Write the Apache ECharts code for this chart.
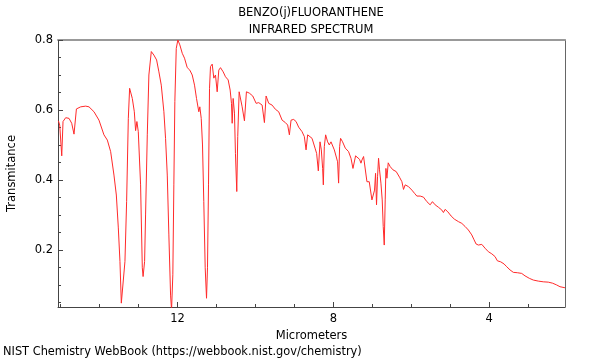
<!DOCTYPE html>
<html>
<head>
<meta charset="utf-8">
<script src="https://cdn.jsdelivr.net/npm/echarts@6/dist/echarts.min.js"></script>
<style>html,body{margin:0;padding:0;background:#fff}#c{width:600px;height:360px}</style>
</head>
<body>
<div id="c"></div>
<script>
// Wavelength in micrometers
var wavelength = [15.059,15.026,14.974,14.941,14.872,14.787,14.718,14.659,14.597,14.487,14.359,14.274,14.146,14.018,13.890,13.803,13.718,13.633,13.572,13.521,13.479,13.444,13.403,13.351,13.308,13.264,13.231,13.162,13.110,13.077,13.044,13.008,12.949,12.905,12.885,12.846,12.821,12.777,12.736,12.674,12.608,12.538,12.479,12.418,12.351,12.308,12.264,12.223,12.179,12.154,12.121,12.095,12.069,12.033,11.992,11.941,11.879,11.821,11.751,11.685,11.623,11.564,11.513,11.454,11.428,11.392,11.359,11.326,11.290,11.256,11.231,11.205,11.179,11.154,11.110,11.069,11.026,10.982,10.941,10.897,10.828,10.769,10.700,10.649,10.615,10.597,10.572,10.538,10.513,10.479,10.454,10.418,10.385,10.341,10.282,10.231,10.154,10.069,9.982,9.915,9.828,9.769,9.726,9.659,9.572,9.487,9.403,9.315,9.231,9.172,9.128,9.085,9.018,8.956,8.890,8.803,8.744,8.700,8.659,8.608,8.546,8.469,8.428,8.385,8.341,8.308,8.274,8.256,8.231,8.197,8.146,8.103,8.059,8.008,7.974,7.923,7.890,7.864,7.838,7.813,7.762,7.692,7.608,7.546,7.495,7.462,7.428,7.377,7.326,7.290,7.264,7.223,7.179,7.136,7.077,7.033,7.008,6.967,6.941,6.915,6.890,6.864,6.838,6.813,6.777,6.744,6.718,6.692,6.667,6.649,6.623,6.590,6.538,6.469,6.385,6.300,6.238,6.197,6.154,6.069,5.982,5.915,5.854,5.769,5.685,5.597,5.513,5.454,5.385,5.300,5.213,5.172,5.128,5.059,4.974,4.890,4.787,4.700,4.615,4.531,4.444,4.385,4.333,4.274,4.187,4.103,4.018,3.931,3.846,3.787,3.700,3.615,3.546,3.462,3.377,3.274,3.162,3.077,2.967,2.864,2.736,2.608,2.479,2.367,2.264,2.179,2.051];
// Transmittance
var transmittance = [0.569,0.557,0.469,0.567,0.578,0.576,0.562,0.531,0.603,0.609,0.611,0.609,0.595,0.571,0.529,0.514,0.481,0.414,0.357,0.263,0.167,0.048,0.052,0.167,0.338,0.576,0.662,0.633,0.595,0.541,0.567,0.538,0.386,0.149,0.124,0.167,0.300,0.529,0.700,0.767,0.757,0.743,0.709,0.671,0.595,0.519,0.414,0.243,0.071,0.029,0.129,0.386,0.624,0.776,0.800,0.786,0.762,0.748,0.721,0.714,0.700,0.671,0.633,0.595,0.609,0.576,0.500,0.338,0.149,0.062,0.149,0.386,0.662,0.724,0.731,0.691,0.700,0.652,0.714,0.721,0.709,0.695,0.686,0.657,0.619,0.562,0.633,0.591,0.476,0.367,0.524,0.652,0.648,0.609,0.569,0.652,0.648,0.640,0.619,0.621,0.614,0.564,0.640,0.619,0.614,0.602,0.595,0.571,0.564,0.557,0.529,0.571,0.573,0.567,0.551,0.538,0.524,0.486,0.529,0.531,0.519,0.491,0.476,0.426,0.509,0.486,0.433,0.386,0.495,0.529,0.509,0.500,0.509,0.505,0.486,0.481,0.452,0.391,0.495,0.519,0.509,0.491,0.481,0.462,0.433,0.433,0.469,0.471,0.459,0.448,0.457,0.467,0.469,0.395,0.395,0.395,0.343,0.338,0.371,0.419,0.329,0.409,0.462,0.429,0.391,0.343,0.267,0.214,0.343,0.433,0.405,0.449,0.438,0.429,0.424,0.408,0.395,0.373,0.386,0.381,0.371,0.362,0.354,0.354,0.351,0.338,0.329,0.338,0.329,0.322,0.314,0.307,0.316,0.309,0.297,0.288,0.281,0.276,0.267,0.257,0.243,0.229,0.217,0.214,0.216,0.205,0.195,0.189,0.181,0.169,0.166,0.160,0.152,0.143,0.136,0.135,0.133,0.126,0.119,0.114,0.111,0.109,0.108,0.105,0.100,0.095,0.092];
var xLabelValues = [4, 8, 12];
var xMinorTicks = [3, 5, 6, 7, 9, 10, 11, 13, 14, 15];
var yLabelValues = [0.2, 0.4, 0.6, 0.8];
var yMinorTicks = [0.05, 0.1, 0.15, 0.25, 0.3, 0.35, 0.45, 0.5, 0.55, 0.65, 0.7, 0.75];

var X_MIN = 2.05, X_MAX = 15.07, Y_MIN = 0.037, Y_MAX = 0.8;
var FONT = 'DejaVu Sans';
var FS = 11.5;
var data = wavelength.map(function (w, i) { return [w, transmittance[i]]; });

var chart = echarts.init(document.getElementById('c'), null, {renderer: 'canvas'});
chart.setOption({
  animation: false,
  backgroundColor: '#fff',
  textStyle: {fontFamily: FONT},
  title: [{
    text: 'BENZO(j)FLUORANTHENE\nINFRARED SPECTRUM',
    left: 311, top: 4.5, padding: 0, textAlign: 'center',
    textStyle: {fontFamily: FONT, fontSize: FS, fontWeight: 'normal', color: '#000', lineHeight: 17}
  }, {
    text: 'NIST Chemistry WebBook (https://webbook.nist.gov/chemistry)',
    left: 3, top: 345.5, padding: 0,
    textStyle: {fontFamily: FONT, fontSize: 11.4, fontWeight: 'normal', color: '#000', lineHeight: 14}
  }],
  grid: {left: 58, right: 35, top: 40, bottom: 53, containLabel: false, outerBoundsMode: 'none'},
  xAxis: [{
    type: 'value', position: 'bottom', inverse: true, min: X_MIN, max: X_MAX,
    name: 'Micrometers', nameLocation: 'middle', nameGap: 18,
    nameTextStyle: {fontFamily: FONT, fontSize: FS, color: '#000'},
    axisLine: {show: true, lineStyle: {color: '#444', width: 1}},
    axisTick: {show: true, inside: true, length: 5, customValues: xLabelValues, lineStyle: {color: '#444'}},
    axisLabel: {show: true, customValues: xLabelValues, fontFamily: FONT, fontSize: FS, color: '#000', margin: 6},
    splitLine: {show: false}
  }, {
    type: 'value', position: 'bottom', inverse: true, min: X_MIN, max: X_MAX,
    axisLine: {show: false},
    axisTick: {show: true, inside: true, length: 3, customValues: xMinorTicks, lineStyle: {color: '#444'}},
    axisLabel: {show: false},
    splitLine: {show: false}
  }, {
    type: 'value', position: 'top', inverse: true, min: X_MIN, max: X_MAX,
    axisLine: {show: true, lineStyle: {color: '#999', width: 2}},
    axisTick: {show: false}, axisLabel: {show: false}, splitLine: {show: false}
  }],
  yAxis: [{
    type: 'value', position: 'left', min: Y_MIN, max: Y_MAX,
    name: 'Transmitance', nameLocation: 'middle', nameGap: 40, nameRotate: 90,
    nameTextStyle: {fontFamily: FONT, fontSize: FS, color: '#000'},
    axisLine: {show: true, lineStyle: {color: '#444', width: 1}},
    axisTick: {show: true, inside: true, length: 5, customValues: yLabelValues, lineStyle: {color: '#444'}},
    axisLabel: {show: true, customValues: yLabelValues, fontFamily: FONT, fontSize: FS, color: '#000', margin: 5,
      formatter: function (v) { return v.toFixed(1); }},
    splitLine: {show: false}
  }, {
    type: 'value', position: 'left', min: Y_MIN, max: Y_MAX,
    axisLine: {show: false},
    axisTick: {show: true, inside: true, length: 3, customValues: yMinorTicks, lineStyle: {color: '#444'}},
    axisLabel: {show: false}, splitLine: {show: false}
  }, {
    type: 'value', position: 'right', min: Y_MIN, max: Y_MAX,
    axisLine: {show: true, lineStyle: {color: '#666', width: 1}},
    axisTick: {show: false}, axisLabel: {show: false}, splitLine: {show: false}
  }],
  series: [{
    type: 'line', xAxisIndex: 0, yAxisIndex: 0, data: data,
    showSymbol: false, symbol: 'none', clip: true,
    lineStyle: {color: '#ff2a2a', width: 1}
  }]
});
</script>
</body>
</html>
